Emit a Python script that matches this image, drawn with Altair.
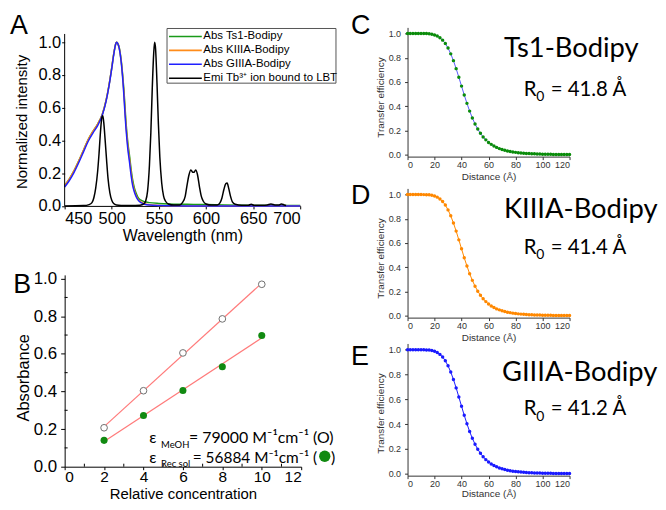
import altair as alt
import pandas as pd

FONT = "Liberation Sans"
TFONT = "Lato"

# ---------------- Panel A data ----------------
abs_wl = [450, 455, 460, 465, 470, 475, 480, 485, 490, 494, 497, 500, 502, 504, 505, 506, 508, 510,
          512, 513, 515, 517, 519, 520, 522, 524, 526, 528, 531, 535, 540, 550, 560, 580, 600, 620, 650, 700]
abs_ts1 = [0.125, 0.165, 0.215, 0.275, 0.34, 0.405, 0.455, 0.50, 0.56, 0.645, 0.735, 0.845, 0.925, 0.985, 1.0,
           0.995, 0.965, 0.89, 0.77, 0.70, 0.52, 0.39, 0.30, 0.25, 0.165, 0.11, 0.075, 0.05, 0.035, 0.025,
           0.02, 0.015, 0.012, 0.01, 0.008, 0.005, 0.003, 0.002]
abs_kiiia = [0.125, 0.165, 0.215, 0.275, 0.34, 0.405, 0.455, 0.50, 0.56, 0.645, 0.735, 0.845, 0.925, 0.985, 1.0,
             0.995, 0.962, 0.885, 0.76, 0.68, 0.50, 0.37, 0.28, 0.23, 0.145, 0.095, 0.062, 0.04, 0.025, 0.013,
             0.007, 0.003, 0.001, 0, 0, 0, 0, 0]
abs_giiia = [0.115, 0.155, 0.205, 0.265, 0.33, 0.395, 0.445, 0.49, 0.555, 0.64, 0.73, 0.84, 0.92, 0.985, 1.0,
             0.995, 0.96, 0.88, 0.75, 0.66, 0.48, 0.35, 0.26, 0.21, 0.13, 0.085, 0.055, 0.035, 0.02, 0.01,
             0.005, 0.002, 0.001, 0, 0, 0, 0, 0]
emi_wl = [450, 470, 476, 479, 481, 483, 485, 486.5, 488, 489.5, 490.5, 491.5, 493, 494.5, 496, 498, 500, 502,
          505, 510, 520, 530, 534, 536, 538, 540, 541.5, 543, 544.5, 545.5, 546.5, 548, 549.5, 551, 553, 555,
          557, 560, 566, 572, 575, 578, 580, 582, 584, 586, 587.5, 589, 591, 593, 595, 597, 600, 606, 612,
          615, 617, 619, 621, 622.5, 624, 626, 628, 631, 638, 645, 648, 651, 660, 665, 669, 673, 677, 680,
          683, 685]
emi_tb = [0.0, 0.002, 0.008, 0.02, 0.05, 0.11, 0.21, 0.32, 0.45, 0.54, 0.55, 0.51, 0.40, 0.28, 0.17, 0.08,
          0.035, 0.015, 0.006, 0.003, 0.002, 0.004, 0.012, 0.03, 0.09, 0.25, 0.45, 0.72, 0.93, 1.0, 0.96, 0.75,
          0.5, 0.3, 0.14, 0.06, 0.03, 0.012, 0.005, 0.006, 0.02, 0.06, 0.13, 0.19, 0.22, 0.205, 0.205, 0.22,
          0.19, 0.12, 0.06, 0.03, 0.012, 0.005, 0.006, 0.02, 0.05, 0.10, 0.135, 0.14, 0.11, 0.06, 0.025, 0.01,
          0.004, 0.004, 0.01, 0.004, 0.004, 0.006, 0.012, 0.006, 0.005, 0.012, 0.006, 0.002]
series_names = ["Abs Ts1-Bodipy", "Abs KIIIA-Bodipy", "Abs GIIIA-Bodipy", "Emi Tb³⁺ ion bound to LBT"]
series_colors = ["#1a9a1a", "#ff8c1a", "#2020ff", "#000000"]

# ---------------- Panel B data ----------------
conc = [2, 4, 6, 8, 10]
abs_meoh = [0.207, 0.404, 0.605, 0.786, 0.970]
abs_rec = [0.140, 0.272, 0.405, 0.532, 0.698]
minor_x_b = [1, 3, 5, 7, 9, 11]
minor_y_b = [0.1, 0.3, 0.5, 0.7, 0.9]

# ---------------- Panels C-E data ----------------
dist = list(range(0, 121, 2))
eff_ts1 = [1.000, 1.000, 1.000, 1.000, 1.000, 1.000, 0.999, 0.999, 0.997, 0.994, 0.988, 0.979, 0.965, 0.945,
           0.917, 0.880, 0.832, 0.776, 0.710, 0.639, 0.566, 0.493, 0.424, 0.360, 0.304, 0.254, 0.212, 0.177,
           0.147, 0.123, 0.102, 0.086, 0.072, 0.061, 0.051, 0.043, 0.037, 0.032, 0.027, 0.023, 0.020, 0.017,
           0.015, 0.013, 0.011, 0.010, 0.009, 0.008, 0.007, 0.006, 0.005, 0.005, 0.004, 0.004, 0.003, 0.003,
           0.003, 0.002, 0.002, 0.002, 0.002]
eff_kiiia = [1.000, 1.000, 1.000, 1.000, 1.000, 1.000, 0.999, 0.998, 0.997, 0.993, 0.987, 0.978, 0.963, 0.942,
             0.913, 0.873, 0.824, 0.765, 0.698, 0.626, 0.552, 0.478, 0.410, 0.347, 0.292, 0.244, 0.203, 0.169,
             0.140, 0.117, 0.097, 0.081, 0.068, 0.057, 0.049, 0.041, 0.035, 0.030, 0.026, 0.022, 0.019, 0.016,
             0.014, 0.012, 0.011, 0.009, 0.008, 0.007, 0.006, 0.006, 0.005, 0.005, 0.004, 0.004, 0.003, 0.003,
             0.003, 0.002, 0.002, 0.002, 0.002]
eff_giiia = [1.000, 1.000, 1.000, 1.000, 1.000, 1.000, 0.999, 0.998, 0.997, 0.993, 0.987, 0.977, 0.962, 0.941,
             0.910, 0.870, 0.820, 0.760, 0.692, 0.619, 0.544, 0.471, 0.403, 0.340, 0.286, 0.238, 0.198, 0.165,
             0.137, 0.114, 0.095, 0.079, 0.066, 0.056, 0.047, 0.040, 0.034, 0.029, 0.025, 0.021, 0.018, 0.016,
             0.014, 0.012, 0.010, 0.009, 0.008, 0.007, 0.006, 0.006, 0.005, 0.005, 0.004, 0.004, 0.003, 0.003,
             0.003, 0.002, 0.002, 0.002, 0.002]

ONE = alt.Data(values=[{}])


def txt(s, x, y, size, font=FONT, align="left", baseline="alphabetic", color="black"):
    return alt.Chart(ONE).mark_text(text=s, align=align, baseline=baseline, font=font,
                                    fontSize=size, color=color).encode(x=alt.value(x), y=alt.value(y))


def pin(x1, y1, x2, y2):
    return alt.Chart(ONE).mark_rule(opacity=0).encode(
        x=alt.value(x1), x2=alt.value(x2), y=alt.value(y1), y2=alt.value(y2))


def seg(x1, x2, y, color, width=1.6):
    return alt.Chart(ONE).mark_rule(color=color, strokeWidth=width).encode(
        x=alt.value(x1), x2=alt.value(x2), y=alt.value(y))


# ---------------- Panel A ----------------
# the plot area reaches a little above the drawn axis so that it shares its top with panel C
A_TOP = 6.6
A_H = 173
rows = []
for name, vals in zip(series_names[:3], [abs_ts1, abs_kiiia, abs_giiia]):
    for w, v in zip(abs_wl, vals):
        rows.append({"wl": w, "val": v, "series": name})
for w, v in zip(emi_wl, emi_tb):
    rows.append({"wl": w, "val": v, "series": series_names[3]})
df_a = pd.DataFrame(rows)

xa = alt.X("wl:Q", scale=alt.Scale(domain=[450, 700], nice=False, zero=False),
           axis=alt.Axis(values=[450, 500, 550, 600, 650, 700], title="Wavelength (nm)",
                         labelFontSize=16.5, tickSize=3, labelPadding=2, titleFontSize=16,
                         titleY=29.5, titleBaseline="middle", titleFontWeight="normal"))
ya = alt.Y("val:Q", scale=alt.Scale(domain=[0, 1.05 * (A_H + A_TOP) / A_H], nice=False, zero=False),
           axis=alt.Axis(values=[0, 0.2, 0.4, 0.6, 0.8, 1.0], format=".1f", title="Normalized intensity",
                         labelFontSize=16.5, tickSize=3, labelPadding=1, titleFontSize=15, domain=False,
                         labelOverlap=False,
                         titleX=-43, titleY=88 + A_TOP, titleBaseline="middle", titleFontWeight="normal"))
lines_a = alt.Chart(df_a).mark_line(strokeWidth=1.5, interpolate="monotone").encode(
    x=xa, y=ya,
    color=alt.Color("series:N", sort=series_names,
                    scale=alt.Scale(domain=series_names, range=series_colors), legend=None))
yaxis_line_a = alt.Chart(ONE).mark_rule(color="black", strokeWidth=1).encode(
    x=alt.value(0), y=alt.value(A_TOP), y2=alt.value(A_TOP + A_H))

legend_box = alt.Chart(ONE).mark_rect(fill="white", stroke="#555", strokeWidth=1).encode(
    x=alt.value(103), x2=alt.value(273), y=alt.value(-5.5 + A_TOP), y2=alt.value(49.5 + A_TOP))
legend_layers = [legend_box]
for i, (name, col) in enumerate(zip(series_names, series_colors)):
    yy = 2.5 + A_TOP + 14 * i
    legend_layers.append(seg(105, 138, yy, col))
    legend_layers.append(txt(name, 139.5, yy, 11.5, baseline="middle"))

panel_a = alt.layer(
    lines_a, yaxis_line_a,
    *legend_layers,
    txt("A", -55, 0.5 + A_TOP, 27),
    pin(-57, -17.9, 280, 229.1),
).properties(width=237, height=A_H + A_TOP)

# ---------------- Panel B ----------------
B_H = 193
df_b = pd.DataFrame({
    "conc": conc + conc,
    "absb": abs_meoh + abs_rec,
    "series": ["MeOH"] * len(conc) + ["Rec"] * len(conc),
})
xb = alt.X("conc:Q", scale=alt.Scale(domain=[0, 12], nice=False, zero=False),
           axis=alt.Axis(values=[0, 2, 4, 6, 8, 10, 12], title="Relative concentration",
                         labelFontSize=15.5, tickSize=3, labelPadding=0, titleFontSize=15,
                         labelOverlap=False,
                         titleY=26.5, titleBaseline="middle", titleFontWeight="normal"))
yb = alt.Y("absb:Q", scale=alt.Scale(domain=[0, 1.02], nice=False, zero=False),
           axis=alt.Axis(values=[0, 0.2, 0.4, 0.6, 0.8, 1.0], format=".1f", title="Absorbance",
                         labelFontSize=17, tickSize=4, labelPadding=4, titleFontSize=16.5,
                         labelOverlap=False,
                         titleX=-41.5, titleY=103, titleBaseline="middle", titleFontWeight="normal"))
fit_b = alt.Chart(df_b).transform_regression("conc", "absb", groupby=["series"]).mark_line(
    color="#ff7a7a", strokeWidth=1.2).encode(x=xb, y=yb, detail="series:N")
open_b = alt.Chart(df_b).transform_filter(alt.datum.series == "MeOH").mark_point(
    shape="circle", filled=True, fill="white", stroke="#707070", strokeWidth=1, size=45, opacity=1
).encode(x=xb, y=yb)
full_b = alt.Chart(df_b).transform_filter(alt.datum.series == "Rec").mark_point(
    shape="circle", filled=True, color="#118a11", size=50, opacity=1).encode(x=xb, y=yb)
# minor ticks, placed through the same scales and axes as the data
minor_xb = alt.Chart(pd.DataFrame({"conc": minor_x_b})).mark_rule(color="black", strokeWidth=1).encode(
    x=xb, y=alt.value(B_H - 3), y2=alt.value(B_H))
minor_yb = alt.Chart(pd.DataFrame({"absb": minor_y_b})).mark_rule(color="black", strokeWidth=1).encode(
    y=yb, x=alt.value(0), x2=alt.value(3))
dot_b = alt.Chart(ONE).mark_point(shape="circle", filled=True, color="#118a11", size=130, opacity=1).encode(
    x=alt.value(261.7), y=alt.value(182.5))
panel_b = alt.layer(
    fit_b, open_b, full_b, minor_xb, minor_yb,
    txt("ε", 85, 169.5, 16, font=TFONT), txt("MeOH", 97, 174, 9.5, font=TFONT),
    txt("= 79000 M⁻¹cm⁻¹ (O)", 125, 169.5, 16, font=TFONT),
    txt("ε", 85, 189, 16, font=TFONT), txt("Rec sol", 97, 193.5, 9.5, font=TFONT),
    txt("= 56884 M⁻¹cm⁻¹ (", 254, 189, 15.5, font=TFONT, align="right"),
    dot_b, txt(")", 268, 189, 16, font=TFONT),
    txt("B", -51.7, 18.2, 27),
    pin(-57, -18.5, 280, 226.5),
).properties(width=238, height=B_H)


# ---------------- Panels C-E ----------------
def fret_panel(eff, line_color, pt_color, name, r0, letter, h, top_pin, bottom_pin,
               letter_y, name_x, name_y, r0_y, title_y=20.5):
    df = pd.DataFrame({"d": dist, "e": eff})
    x = alt.X("d:Q", scale=alt.Scale(domain=[0, 120], nice=False, zero=False),
              axis=alt.Axis(values=list(range(0, 121, 20)), title="Distance (Å)", labelFontSize=9,
                            labelColor="#333", tickSize=3, labelPadding=1, titleFontSize=10,
                            titleColor="#333", titleY=title_y, titleBaseline="middle", titleFontWeight="normal",
                            domainColor="#333", tickColor="#333"))
    y = alt.Y("e:Q", scale=alt.Scale(domain=[-0.015, 1.05], nice=False, zero=False),
              axis=alt.Axis(values=[0, 0.2, 0.4, 0.6, 0.8, 1.0], format=".1f", title="Transfer efficiency",
                            labelFontSize=9, labelColor="#333", tickSize=3, labelPadding=4,
                            titleFontSize=10, titleColor="#333", titleX=-27, titleY=70,
                            titleBaseline="middle", titleFontWeight="normal",
                            domainColor="#333", tickColor="#333"))
    line = alt.Chart(df).mark_line(color=line_color, strokeWidth=1).encode(x=x, y=y)
    pts = alt.Chart(df).mark_point(filled=True, shape="circle", size=12, color=pt_color, opacity=1).encode(x=x, y=y)
    return alt.layer(
        line, pts,
        txt(letter, -57, letter_y, 27),
        txt(name, name_x, name_y, 27.5, font=TFONT),
        txt("R", 117, r0_y, 20.5, font=TFONT),
        txt("0", 129.5, r0_y + 5.5, 14, font=TFONT),
        txt("= " + r0 + " Å", 144, r0_y, 20.5, font=TFONT),
        pin(-65, top_pin, 247, bottom_pin),
    ).properties(width=163, height=h)


panel_c = fret_panel(eff_ts1, "#5a5aff", "#0a8c0a", "Ts1-Bodipy", "41.8", "C", 130, -17.9, 155.6,
                     7.1, 97, 30.1, 69)
panel_d = fret_panel(eff_kiiia, "#ff8800", "#ff8800", "KIIIA-Bodipy", "41.4", "D", 130, -5.8, 155.6,
                     16, 97, 29.4, 65.7)
panel_e = fret_panel(eff_giiia, "#1a1aff", "#1a1aff", "GIIIA-Bodipy", "41.2", "E", 133, 0.2, 155.8,
                     22, 95, 37.3, 72.3, title_y=17.8)

left = alt.vconcat(panel_a, panel_b, spacing=0)
right = alt.vconcat(panel_c, panel_d, panel_e, spacing=0)

chart = alt.hconcat(left, right, spacing=0, padding=0).configure(font=FONT).configure_view(
    stroke=None).configure_axis(
    grid=False, domainColor="black", tickColor="black", labelColor="black", titleColor="black",
    labelFont=FONT, titleFont=FONT, titleFontWeight="normal", domainWidth=1, tickWidth=1)

chart.save("out.html", embed_options={"renderer": "svg", "actions": False})
